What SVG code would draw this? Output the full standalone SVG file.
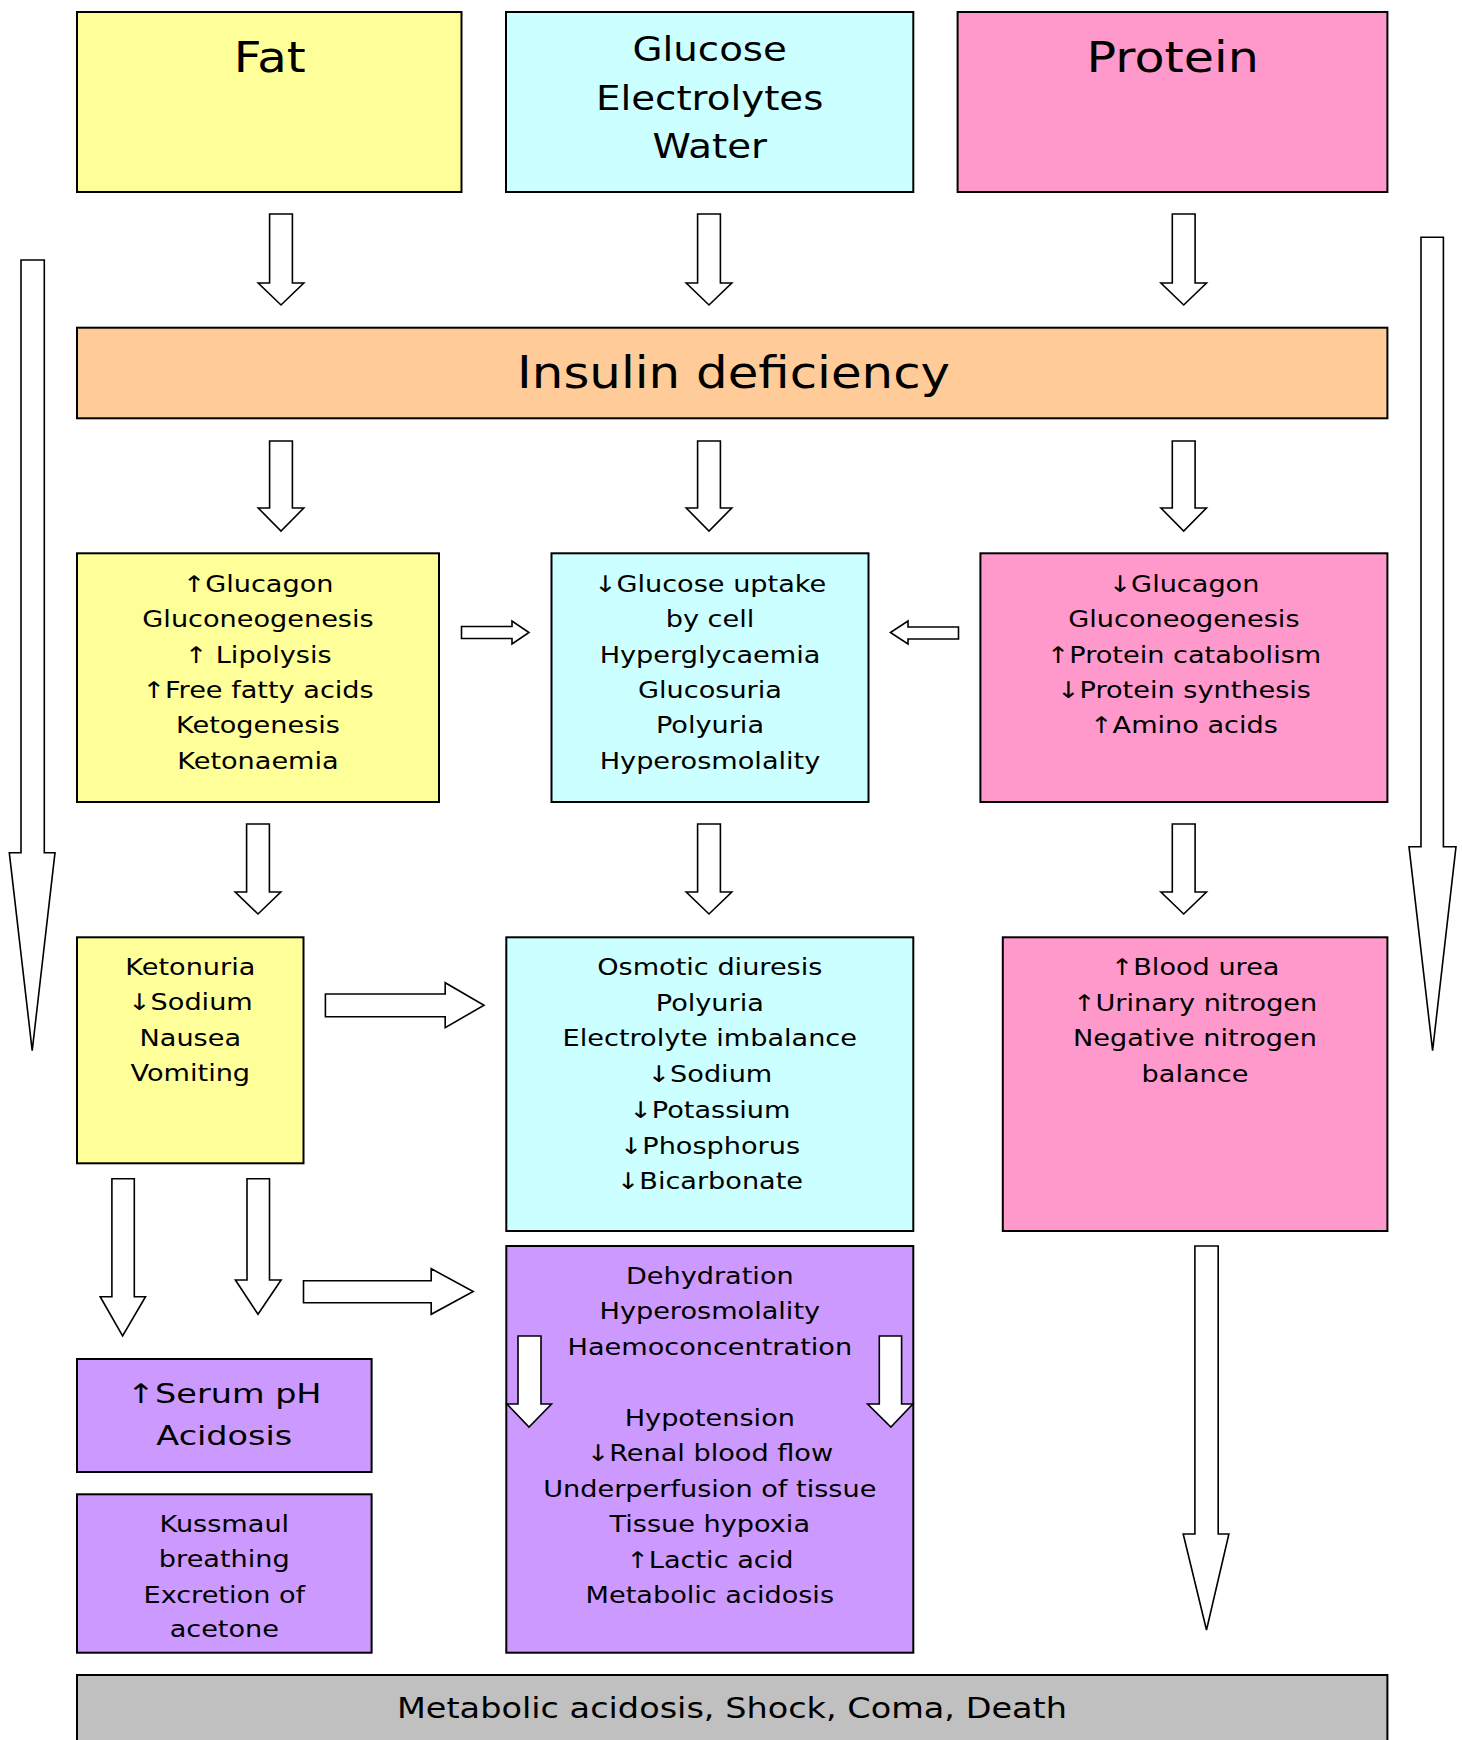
<svg xmlns="http://www.w3.org/2000/svg" width="1462" height="1740" viewBox="0 0 1462 1740">
<style>
.box{stroke:#000;stroke-width:2}
.y{fill:#FFFF99}.c{fill:#CCFFFF}.p{fill:#FF99CC}.o{fill:#FFCC99}.v{fill:#CC99FF}.g{fill:#C0C0C0}
.arr{fill:#fff;stroke:#000;stroke-width:1.6;stroke-linejoin:miter}
text{font-family:"DejaVu Sans",Verdana,sans-serif;fill:#000;text-anchor:middle}
.s{font-size:23px}
</style>
<rect width="1462" height="1740" fill="#fff"/>

<g id="fat">
<rect class="box y" x="77" y="12" width="384.5" height="180"/>
<g transform="matrix(1.11,0,0,1,-29.6,0)"><text x="269.7" y="71.7" font-size="43.5">Fat</text></g>
</g>
<g id="glucose">
<rect class="box c" x="506" y="12" width="407.3" height="180"/>
<g transform="matrix(1.175,0,0,1,-124.2,0)">
<text x="709.7" y="60.7" font-size="33">Glucose</text>
<text x="709.7" y="110" font-size="33">Electrolytes</text>
<text x="709.7" y="158.3" font-size="33">Water</text>
</g>
</g>
<g id="protein">
<rect class="box p" x="957.6" y="12" width="429.8" height="180"/>
<g transform="matrix(1.13,0,0,1,-152.45,0)"><text x="1172.7" y="71.7" font-size="43.5">Protein</text></g>
</g>
<g id="insulin">
<rect class="box o" x="77" y="327.7" width="1310.4" height="90.6"/>
<g transform="matrix(1.125,0,0,1,-91.7,0)"><text x="733.6" y="388.3" font-size="44.3">Insulin deficiency</text></g>
</g>

<g id="fat-effects">
<rect class="box y" x="77" y="553.3" width="362" height="248.7"/>
<g class="s" transform="matrix(1.18,0,0,1,-46.44,0)">
<text x="258" y="592">↑Glucagon</text>
<text x="258" y="627.3">Gluconeogenesis</text>
<text x="258" y="662.6">↑ Lipolysis</text>
<text x="258" y="697.9">↑Free fatty acids</text>
<text x="258" y="733.2">Ketogenesis</text>
<text x="258" y="768.5">Ketonaemia</text>
</g>
</g>
<g id="glucose-effects">
<rect class="box c" x="551.5" y="553.3" width="317" height="248.7"/>
<g class="s" transform="matrix(1.18,0,0,1,-127.8,0)">
<text x="710" y="592">↓Glucose uptake</text>
<text x="710" y="627.3">by cell</text>
<text x="710" y="662.6">Hyperglycaemia</text>
<text x="710" y="697.9">Glucosuria</text>
<text x="710" y="733.2">Polyuria</text>
<text x="710" y="768.5">Hyperosmolality</text>
</g>
</g>
<g id="protein-effects">
<rect class="box p" x="980.4" y="553.3" width="407" height="248.7"/>
<g class="s" transform="matrix(1.18,0,0,1,-213.1,0)">
<text x="1183.9" y="592">↓Glucagon</text>
<text x="1183.9" y="627.3">Gluconeogenesis</text>
<text x="1183.9" y="662.6">↑Protein catabolism</text>
<text x="1183.9" y="697.9">↓Protein synthesis</text>
<text x="1183.9" y="733.2">↑Amino acids</text>
</g>
</g>

<g id="ketonuria">
<rect class="box y" x="77" y="937.3" width="226.5" height="226"/>
<g class="s" transform="matrix(1.18,0,0,1,-34.25,0)">
<text x="190.3" y="975">Ketonuria</text>
<text x="190.3" y="1010.5">↓Sodium</text>
<text x="190.3" y="1046">Nausea</text>
<text x="190.3" y="1081.5">Vomiting</text>
</g>
</g>
<g id="osmotic">
<rect class="box c" x="506.3" y="937.3" width="407" height="293.7"/>
<g class="s" transform="matrix(1.18,0,0,1,-127.76,0)">
<text x="709.8" y="975">Osmotic diuresis</text>
<text x="709.8" y="1010.7">Polyuria</text>
<text x="709.8" y="1046.4">Electrolyte imbalance</text>
<text x="709.8" y="1082.1">↓Sodium</text>
<text x="709.8" y="1117.8">↓Potassium</text>
<text x="709.8" y="1153.5">↓Phosphorus</text>
<text x="709.8" y="1189.2">↓Bicarbonate</text>
</g>
</g>
<g id="nitrogen">
<rect class="box p" x="1002.8" y="937.3" width="384.6" height="293.7"/>
<g class="s" transform="matrix(1.18,0,0,1,-215.1,0)">
<text x="1195" y="975">↑Blood urea</text>
<text x="1195" y="1010.7">↑Urinary nitrogen</text>
<text x="1195" y="1046.4">Negative nitrogen</text>
<text x="1195" y="1082.1">balance</text>
</g>
</g>

<g id="acidosis">
<rect class="box v" x="77" y="1359" width="294.6" height="113"/>
<g transform="matrix(1.24,0,0,1,-53.83,0)">
<text x="224.3" y="1402.7" font-size="27">↑Serum pH</text>
<text x="224.3" y="1445" font-size="27">Acidosis</text>
</g>
</g>
<g id="kussmaul">
<rect class="box v" x="77" y="1494.3" width="294.6" height="158.4"/>
<g class="s" transform="matrix(1.18,0,0,1,-40.37,0)">
<text x="224.3" y="1531.7">Kussmaul</text>
<text x="224.3" y="1567.3">breathing</text>
<text x="224.3" y="1602.7">Excretion of</text>
<text x="224.3" y="1637.3">acetone</text>
</g>
</g>
<g id="dehydration">
<rect class="box v" x="506.3" y="1246" width="407" height="406.7"/>
<g class="s" transform="matrix(1.18,0,0,1,-127.76,0)">
<text x="709.8" y="1284">Dehydration</text>
<text x="709.8" y="1319.5">Hyperosmolality</text>
<text x="709.8" y="1355">Haemoconcentration</text>
<text x="709.8" y="1426">Hypotension</text>
<text x="709.8" y="1461.5">↓Renal blood flow</text>
<text x="709.8" y="1497">Underperfusion of tissue</text>
<text x="709.8" y="1532.5">Tissue hypoxia</text>
<text x="709.8" y="1568">↑Lactic acid</text>
<text x="709.8" y="1603.5">Metabolic acidosis</text>
</g>
</g>
<g id="outcome">
<rect class="box g" x="77" y="1675" width="1310.4" height="80"/>
<g transform="matrix(1.156,0,0,1,-114.2,0)"><text x="732" y="1717.7" font-size="29">Metabolic acidosis, Shock, Coma, Death</text></g>
</g>

<g id="connectors">
<path class="arr" d="M269.6,214 H292.4 V283 H303.8 L281,305 L258.2,283 H269.6 Z"/>
<path class="arr" d="M697.6,214 H720.4 V283 H731.8 L709,305 L686.2,283 H697.6 Z"/>
<path class="arr" d="M1172.3,214 H1195.1 V283 H1206.5 L1183.7,305 L1160.9,283 H1172.3 Z"/>
<path class="arr" d="M269.6,441 H292.4 V508 H303.8 L281,531 L258.2,508 H269.6 Z"/>
<path class="arr" d="M697.6,441 H720.4 V508 H731.8 L709,531 L686.2,508 H697.6 Z"/>
<path class="arr" d="M1172.3,441 H1195.1 V508 H1206.5 L1183.7,531 L1160.9,508 H1172.3 Z"/>
<path class="arr" d="M246.6,824 H269.4 V892 H280.8 L258,914 L235.2,892 H246.6 Z"/>
<path class="arr" d="M697.6,824 H720.4 V892 H731.8 L709,914 L686.2,892 H697.6 Z"/>
<path class="arr" d="M1172.3,824 H1195.1 V892 H1206.5 L1183.7,914 L1160.9,892 H1172.3 Z"/>
<path class="arr" d="M461.5,626.5 H512 V621 L529,632.5 L512,644 V638.5 H461.5 Z"/>
<path class="arr" d="M958.5,627 H908 V621 L890.4,632.5 L908,644 V639 H958.5 Z"/>
<path class="arr" d="M325.4,994 H445.2 V982.7 L484,1005.2 L445.2,1027.7 V1016.7 H325.4 Z"/>
<path class="arr" d="M111.9,1178.7 H134.3 V1296.7 H145.5 L122.6,1336 L100.2,1296.7 H111.9 Z"/>
<path class="arr" d="M247,1178.7 H269.5 V1280 H281.1 L258,1314.3 L235.4,1280 H247 Z"/>
<path class="arr" d="M303.5,1280.7 H431.2 V1268.7 L473.2,1291.5 L431.2,1314.3 V1302.7 H303.5 Z"/>
<path class="arr" d="M21,260 H44.3 V852.7 H55 L32.2,1050.7 L9.3,852.7 H21 Z"/>
<path class="arr" d="M1421,237.3 H1443.4 V846.7 H1456 L1432.6,1050.7 L1409,846.7 H1421 Z"/>
<path class="arr" d="M1194.9,1246 H1218.2 V1534 H1228.9 L1206.5,1630 L1183.2,1534 H1194.9 Z"/>
<path class="arr" d="M518,1336 H541 V1404 H551.5 L529,1427 L507,1404 H518 Z"/>
<path class="arr" d="M879.3,1336 H901.6 V1404 H912.8 L890.9,1427 L867.6,1404 H879.3 Z"/>
</g>
</svg>
